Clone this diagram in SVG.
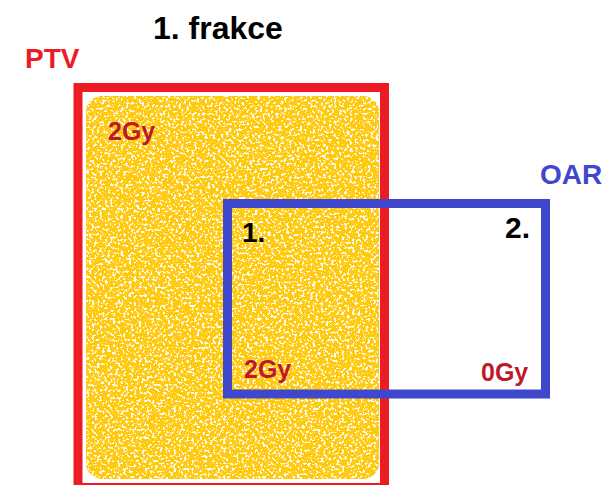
<svg xmlns="http://www.w3.org/2000/svg" width="604" height="485" viewBox="0 0 604 485">
<defs>
<filter id="speckle" x="0" y="0" width="1" height="1">
<feTurbulence type="fractalNoise" baseFrequency="0.38" numOctaves="2" seed="7" result="n"/>
<feColorMatrix in="n" type="matrix" values="0 0 0 0 0  0 0 0 0 0  0 0 0 0 0  -12 0 0 0 7.6" result="mask"/>
<feComposite in="SourceGraphic" in2="mask" operator="in"/>
</filter>
</defs>
<style>
.t{font-family:"Liberation Sans",Arial,sans-serif;font-weight:bold}
.blk{fill:#000}
.dose{fill:#C0182B;font-size:25px}
.box{fill:none;stroke-width:9}
</style>
<rect width="604" height="485" fill="#fff"/>
<g id="title"><text class="t blk" x="153" y="39" font-size="32">1. frakce</text></g>
<g id="dose-area"><rect x="86" y="96" width="293" height="383" rx="16" fill="#FFC90E" filter="url(#speckle)"/></g>
<g id="ptv">
<rect class="box" x="78" y="87.5" width="306.5" height="400" stroke="#ED1C24"/>
<text class="t" x="25" y="68" font-size="28" fill="#ED1C24">PTV</text>
<text class="t dose" x="108" y="140">2Gy</text>
</g>
<g id="oar">
<rect class="box" x="227.5" y="203.5" width="318" height="190.5" stroke="#3F48CC"/>
<text class="t" x="540" y="184" font-size="28" fill="#3F48CC">OAR</text>
<text class="t blk" x="242" y="242" font-size="28">1.</text>
<text class="t blk" x="505" y="238" font-size="30">2.</text>
<text class="t dose" x="244" y="378">2Gy</text>
<text class="t dose" x="481" y="381">0Gy</text>
</g>
<g id="connectors"/>
</svg>
